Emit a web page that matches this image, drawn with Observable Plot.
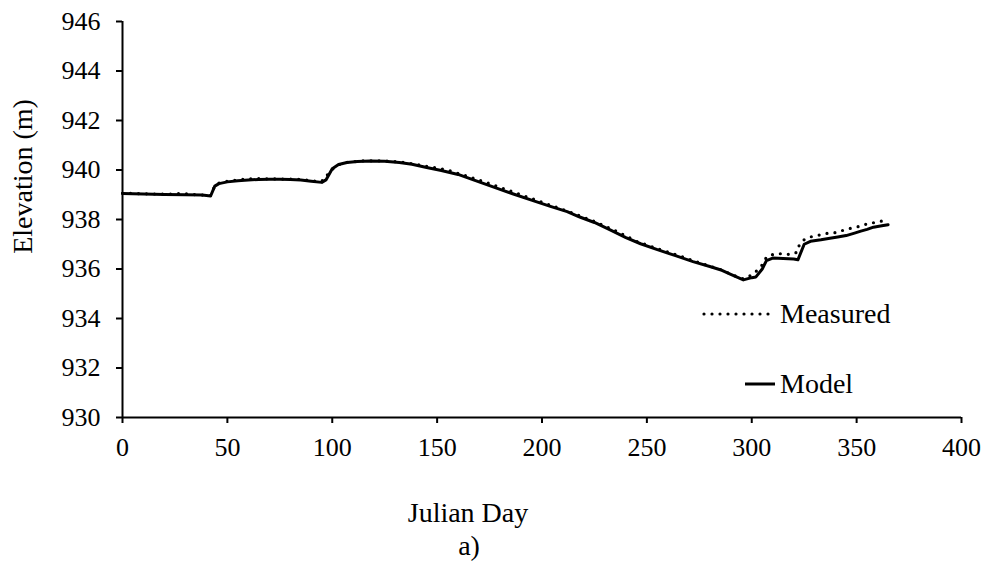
<!DOCTYPE html>
<html>
<head>
<meta charset="utf-8">
<script src="https://cdn.jsdelivr.net/npm/d3@7"></script>
<script src="https://cdn.jsdelivr.net/npm/@observablehq/plot@0.6"></script>
<style>
  html, body { margin: 0; padding: 0; background: #fff; }
  #wrap { position: relative; width: 985px; height: 570px; }
  #legend { position: absolute; left: 0; top: 0; }
</style>
</head>
<body>
<div id="wrap"></div>
<script>
// Tick labels
const xTicks = [0, 50, 100, 150, 200, 250, 300, 350, 400];
const yTicks = [930, 932, 934, 936, 938, 940, 942, 944, 946];

// Model series (Julian day, elevation m)
const modelDay = [0, 10, 20, 30, 38, 42, 44, 46, 50, 55, 60, 65, 70, 75, 80, 85, 90, 95, 97, 100, 103, 107, 112, 118, 125, 132, 138, 145, 152, 160, 170, 180, 186, 195, 204, 212, 218, 225, 232, 240, 247, 255, 264, 272, 280, 285, 290, 296, 300, 302, 305, 307, 310, 315, 320, 322, 325, 328, 333, 338, 341, 345, 349, 352, 355, 358, 362, 365];
const modelElev = [939.05, 939.03, 939.01, 939.00, 938.99, 938.95, 939.35, 939.45, 939.52, 939.57, 939.60, 939.62, 939.63, 939.63, 939.62, 939.60, 939.55, 939.50, 939.60, 940.05, 940.22, 940.30, 940.34, 940.36, 940.35, 940.30, 940.23, 940.10, 939.98, 939.82, 939.52, 939.22, 939.04, 938.78, 938.53, 938.32, 938.10, 937.88, 937.60, 937.27, 937.02, 936.78, 936.53, 936.30, 936.10, 935.97, 935.78, 935.56, 935.65, 935.68, 936.00, 936.34, 936.44, 936.42, 936.40, 936.37, 937.00, 937.12, 937.18, 937.25, 937.29, 937.35, 937.45, 937.53, 937.60, 937.69, 937.75, 937.79];

// Measured series (Julian day, elevation m)
const measDay = [0, 10, 20, 28, 35, 42, 43, 45, 50, 55, 63, 70, 80, 85, 90, 94, 96, 98, 101, 104, 108, 115, 125, 135, 145, 155, 165, 175, 185, 195, 205, 215, 225, 235, 245, 255, 265, 275, 285, 292, 296, 300, 303, 305.4, 307, 310.8, 314.8, 318.6, 321.7, 322.7, 325.4, 329, 332.8, 336.6, 340.5, 344.4, 348.4, 351.9, 355.8, 359.5, 363, 365];
const measElev = [939.06, 939.04, 939.02, 939.05, 939.00, 938.97, 939.20, 939.45, 939.55, 939.60, 939.66, 939.64, 939.63, 939.62, 939.57, 939.52, 939.60, 939.85, 940.10, 940.25, 940.32, 940.37, 940.37, 940.30, 940.15, 940.00, 939.73, 939.45, 939.15, 938.85, 938.55, 938.25, 937.92, 937.55, 937.12, 936.82, 936.55, 936.25, 935.98, 935.72, 935.60, 935.76, 935.97, 936.21, 936.48, 936.61, 936.62, 936.58, 936.68, 936.98, 937.22, 937.32, 937.38, 937.45, 937.47, 937.59, 937.67, 937.73, 937.85, 937.88, 937.96, 937.97];

const seriesNames = ["Measured", "Model"];
const xTitle = "Julian Day";
const yTitle = "Elevation (m)";
const caption = "a)";

const model = modelDay.map((d, i) => ({day: d, elev: modelElev[i]}));
const measured = measDay.map((d, i) => ({day: d, elev: measElev[i]}));

const font = "'Liberation Serif', 'Times New Roman', serif";

const chart = Plot.plot({
  width: 985,
  height: 570,
  marginLeft: 122,
  marginRight: 24,
  marginTop: 21,
  marginBottom: 153,
  style: {fontFamily: font, fontSize: "26px", color: "#000", background: "#fff", overflow: "visible"},
  x: {domain: [0, 400]},
  y: {domain: [930, 946]},
  marks: [
    Plot.axisX({ticks: xTicks, tickSize: 6, tickPadding: 14, label: null, strokeWidth: 2, fontSize: 26, tickFormat: d => String(d)}),
    Plot.axisY({ticks: yTicks, tickSize: 6, tickPadding: 16, label: null, strokeWidth: 2, fontSize: 26, tickFormat: d => String(d)}),
    Plot.ruleX([0], {stroke: "#000", strokeWidth: 2}),
    Plot.ruleY([930], {stroke: "#000", strokeWidth: 2}),
    Plot.line(model, {x: "day", y: "elev", stroke: "#000", strokeWidth: 3}),
    Plot.line(measured, {x: "day", y: "elev", stroke: "#000", strokeWidth: 3.2, strokeDasharray: "0,8", strokeLinecap: "round"}),
    Plot.text([yTitle], {text: d => d, frameAnchor: "left", textAnchor: "middle", rotate: -90, dx: -99, dy: -43, fontSize: 28, fill: "#000"}),
    Plot.text([xTitle], {text: d => d, frameAnchor: "bottom", textAnchor: "middle", dx: -74, dy: 104, fontSize: 28, fill: "#000"}),
    Plot.text([caption], {text: d => d, frameAnchor: "bottom", textAnchor: "middle", dx: -73, dy: 137, fontSize: 28, fill: "#000"})
  ]
});

const wrap = document.getElementById("wrap");
wrap.appendChild(chart);

// Legend overlay
const ns = "http://www.w3.org/2000/svg";
const lg = document.createElementNS(ns, "svg");
lg.setAttribute("id", "legend");
lg.setAttribute("width", 985);
lg.setAttribute("height", 570);
lg.innerHTML = `
  <line x1="704" x2="775" y1="314" y2="314" stroke="#000" stroke-width="3.2" stroke-dasharray="0,8" stroke-linecap="round"/>
  <text x="780" y="323" font-family="${font}" font-size="28" fill="#000">${seriesNames[0]}</text>
  <line x1="745" x2="775" y1="384" y2="384" stroke="#000" stroke-width="3"/>
  <text x="780" y="393" font-family="${font}" font-size="28" fill="#000">${seriesNames[1]}</text>
`;
wrap.appendChild(lg);
</script>
</body>
</html>
